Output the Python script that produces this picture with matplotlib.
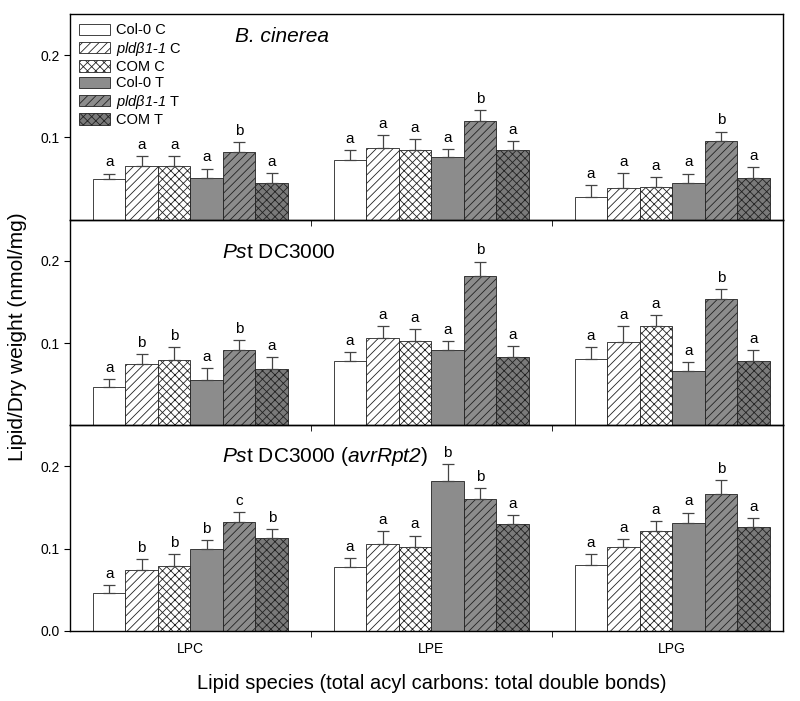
import numpy as np
import matplotlib
matplotlib.use("Agg")
import matplotlib.pyplot as plt
from matplotlib import font_manager

names = {f.name for f in font_manager.fontManager.ttflist}
fam = 'Liberation Sans Narrow' if 'Liberation Sans Narrow' in names else 'Liberation Sans'
plt.rcParams['font.family'] = [fam, 'DejaVu Sans']
# math text is only used for the italic parts, so make digits italic as well
plt.rcParams['mathtext.fontset'] = 'custom'
plt.rcParams['mathtext.rm'] = fam + ':italic'
plt.rcParams['mathtext.it'] = fam + ':italic'
plt.rcParams['hatch.linewidth'] = 0.6

lipids = ['LPC', 'LPE', 'LPG']
genotypes = ['Col-0 C', r'$pld\beta1$-$1$ C', 'COM C',
             'Col-0 T', r'$pld\beta1$-$1$ T', 'COM T']

# B. cinerea
bc_vals = [[0.049, 0.065, 0.065, 0.050, 0.082, 0.045],
           [0.073, 0.087, 0.084, 0.076, 0.120, 0.084],
           [0.028, 0.039, 0.040, 0.044, 0.096, 0.050]]
bc_err = [[0.007, 0.012, 0.012, 0.012, 0.012, 0.012],
          [0.012, 0.016, 0.014, 0.010, 0.013, 0.011],
          [0.014, 0.018, 0.012, 0.012, 0.011, 0.014]]
bc_let = [['a', 'a', 'a', 'a', 'b', 'a'],
          ['a', 'a', 'a', 'a', 'b', 'a'],
          ['a', 'a', 'a', 'a', 'b', 'a']]

# Pst DC3000
pst_vals = [[0.047, 0.074, 0.079, 0.055, 0.092, 0.069],
            [0.078, 0.106, 0.102, 0.091, 0.181, 0.083],
            [0.081, 0.101, 0.121, 0.066, 0.154, 0.078]]
pst_err = [[0.009, 0.013, 0.016, 0.015, 0.012, 0.014],
           [0.011, 0.015, 0.015, 0.011, 0.018, 0.013],
           [0.014, 0.020, 0.013, 0.011, 0.012, 0.013]]
pst_let = [['a', 'b', 'b', 'a', 'b', 'a'],
           ['a', 'a', 'a', 'a', 'b', 'a'],
           ['a', 'a', 'a', 'a', 'b', 'a']]

# Pst DC3000 (avrRpt2)
avr_vals = [[0.046, 0.074, 0.079, 0.100, 0.132, 0.113],
            [0.078, 0.106, 0.102, 0.182, 0.160, 0.130],
            [0.080, 0.102, 0.121, 0.131, 0.166, 0.126]]
avr_err = [[0.010, 0.013, 0.015, 0.011, 0.013, 0.011],
           [0.011, 0.015, 0.014, 0.021, 0.014, 0.011],
           [0.014, 0.010, 0.013, 0.013, 0.017, 0.011]]
avr_let = [['a', 'b', 'b', 'b', 'c', 'b'],
           ['a', 'a', 'a', 'b', 'b', 'a'],
           ['a', 'a', 'a', 'a', 'b', 'a']]

fills = ['white', 'white', 'white', '#8c8c8c', '#8c8c8c', '#7a7a7a']
hatches = [None, '////', 'xxxx', None, '////', 'xxxx']

panels = [(bc_vals, bc_err, bc_let), (pst_vals, pst_err, pst_let), (avr_vals, avr_err, avr_let)]

fig = plt.figure(figsize=(8, 7.01), dpi=100)
left, width = 70 / 800, 713 / 800
ph = 205.7 / 701
bottom0 = 1 - 631 / 701
axes = []
for p in range(3):
    ax = fig.add_axes([left, bottom0 + (2 - p) * ph, width, ph])
    ax.set_facecolor('none')
    axes.append(ax)

x = np.arange(len(lipids))
bw = 0.135
for p, ax in enumerate(axes):
    vals, errs, lets = panels[p]
    vals = np.array(vals)
    errs = np.array(errs)
    for g in range(6):
        xs = x + (g - 2.5) * bw
        ax.bar(xs, vals[:, g], bw, color=fills[g], edgecolor='#222222', linewidth=0.6,
               hatch=hatches[g], label=genotypes[g], zorder=2)
        ax.errorbar(xs, vals[:, g], yerr=[np.zeros(3), errs[:, g]], fmt='none',
                    ecolor='#444444', elinewidth=0.9, capsize=4, capthick=0.9, zorder=3)
        for i in range(3):
            ax.text(xs[i], vals[i, g] + errs[i, g] + 0.005, lets[i][g], ha='center',
                    va='bottom', fontsize=11)
    ax.set_xlim(-0.5, 2.46)
    ax.set_ylim(0, 0.25)
    ax.set_xticks(x)
    ax.set_xticks([0.5, 1.5], minor=True)
    ax.tick_params(axis='x', which='major', length=0)
    ax.tick_params(axis='x', which='minor', length=4, direction='out')
    ax.tick_params(axis='y', length=4, direction='out', labelsize=10)
    for s in ax.spines.values():
        s.set_linewidth(1.0)
    if p < 2:
        ax.set_yticks([0.1, 0.2])
        ax.set_yticklabels(['0.1', '0.2'])
        ax.set_xticklabels([])
    else:
        ax.set_yticks([0.0, 0.1, 0.2])
        ax.set_yticklabels(['0.0', '0.1', '0.2'])
        ax.set_xticklabels(lipids, fontsize=10)
        ax.tick_params(axis='x', which='major', pad=8)

axes[0].text(0.297, 0.89, 'B. cinerea', transform=axes[0].transAxes, fontsize=15,
             style='italic', ha='center', va='center')
axes[1].text(0.213, 0.84, r'$Ps$t DC3000', transform=axes[1].transAxes,
             fontsize=15, ha='left', va='center')
axes[2].text(0.213, 0.85, r'$Ps$t DC3000 ($avrRpt2$)',
             transform=axes[2].transAxes, fontsize=15, ha='left', va='center')

axes[0].legend(loc='upper left', bbox_to_anchor=(0.0, 1.0), frameon=False, fontsize=10.5,
               handlelength=2.1, handleheight=0.8, labelspacing=0.16, handletextpad=0.4,
               borderaxespad=0.25)

fig.text(0.022, 0.52, 'Lipid/Dry weight (nmol/mg)', rotation=90, fontsize=15,
         ha='center', va='center')
fig.text(0.54, 0.025, 'Lipid species (total acyl carbons: total double bonds)',
         fontsize=14.5, ha='center', va='center')

fig.savefig('out.png', dpi=100)
